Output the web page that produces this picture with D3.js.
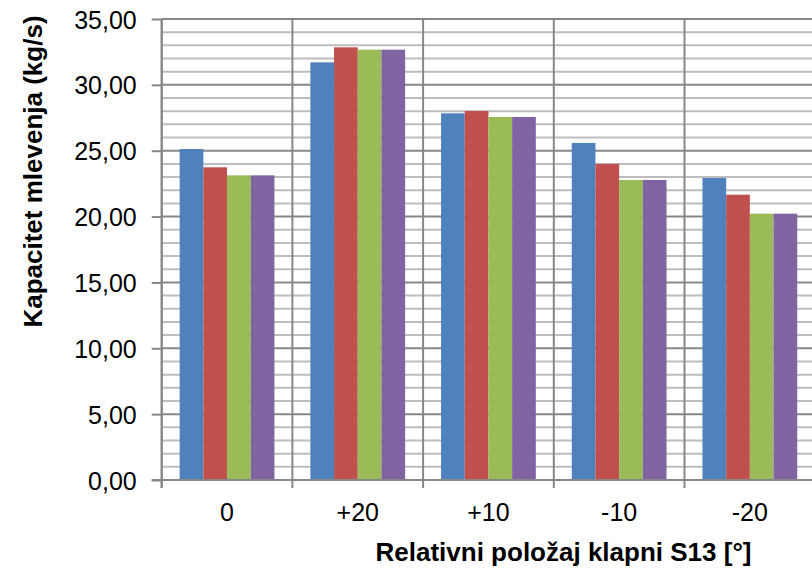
<!DOCTYPE html>
<html>
<head>
<meta charset="utf-8">
<script src="https://cdn.jsdelivr.net/npm/d3@7"></script>
<style>
  html, body { margin: 0; padding: 0; background: #fff; }
  svg { display: block; font-family: "Liberation Sans", Arial, sans-serif; }
</style>
</head>
<body>
<svg id="chart" width="812" height="570"></svg>
<script>
// Flap positions (x categories) and the four measurement series
const categories = ["0", "+20", "+10", "-10", "-20"];
const seriesNames = ["s1", "s2", "s3", "s4"];
const series1 = [25.13, 31.71, 27.84, 25.59, 22.93];
const series2 = [23.74, 32.85, 28.02, 24.00, 21.66];
const series3 = [23.13, 32.67, 27.56, 22.78, 20.22];
const series4 = [23.13, 32.67, 27.56, 22.78, 20.22];
const seriesValues = [series1, series2, series3, series4];
const seriesColors = ["#4F81BD", "#C0504D", "#9BBB59", "#8064A2"];
const majorTicks = [0, 5, 10, 15, 20, 25, 30, 35];
const tickLabels = ["0,00", "5,00", "10,00", "15,00", "20,00", "25,00", "30,00", "35,00"];
const yTitle = "Kapacitet mlevenja (kg/s)";
const xTitle = "Relativni položaj klapni S13 [°]";

const svg = d3.select("#chart");
const plotLeft = 161.7, plotRight = 815.2, plotTop = 19, plotBottom = 480;

const x = d3.scaleBand().domain(categories).range([plotLeft, plotRight]).padding(0);
const bw = x.bandwidth();
const groupW = bw * 0.725;
const xs = d3.scaleBand().domain(seriesNames)
  .range([(bw - groupW) / 2, (bw + groupW) / 2]).padding(0);
const y = d3.scaleLinear().domain([0, 35]).range([plotBottom, plotTop]);

const g = svg.append("g");

// minor horizontal gridlines (every 1 unit)
const minor = d3.range(0, 36).filter(v => v % 5 !== 0);
g.selectAll("line.minor").data(minor).join("line")
  .attr("x1", plotLeft).attr("x2", plotRight)
  .attr("y1", d => y(d)).attr("y2", d => y(d))
  .attr("stroke", "#bdbdbd").attr("stroke-width", 2);

// major horizontal gridlines
g.selectAll("line.major").data(majorTicks.filter(v => v > 0)).join("line")
  .attr("x1", plotLeft).attr("x2", plotRight)
  .attr("y1", d => y(d)).attr("y2", d => y(d))
  .attr("stroke", "#878787").attr("stroke-width", 2);

// vertical category separators
const seps = categories.map(c => x(c)).concat([plotRight]);
g.selectAll("line.vsep").data(seps).join("line")
  .attr("x1", d => d).attr("x2", d => d)
  .attr("y1", plotTop).attr("y2", plotBottom + 8)
  .attr("stroke", "#878787").attr("stroke-width", 2);

// bars
const bars = [];
seriesValues.forEach((vals, si) => {
  vals.forEach((v, ci) => bars.push({ s: seriesNames[si], c: categories[ci], v, color: seriesColors[si] }));
});
g.selectAll("rect.bar").data(bars).join("rect")
  .attr("x", d => x(d.c) + xs(d.s))
  .attr("width", xs.bandwidth())
  .attr("y", d => y(d.v))
  .attr("height", d => y(0) - y(d.v))
  .attr("fill", d => d.color);

// x axis line
g.append("line").attr("x1", plotLeft - 10).attr("x2", plotRight)
  .attr("y1", plotBottom).attr("y2", plotBottom)
  .attr("stroke", "#878787").attr("stroke-width", 2);

// y axis with major ticks and labels
const yAxis = d3.axisLeft(y).tickValues(majorTicks)
  .tickFormat((d, i) => tickLabels[i]).tickSize(10).tickPadding(15);
const ya = svg.append("g").attr("transform", `translate(${plotLeft},0)`).call(yAxis);
ya.select(".domain").attr("stroke", "#878787").attr("stroke-width", 2)
  .attr("d", `M0,${plotTop}V${plotBottom + 8}`);
ya.selectAll(".tick line").attr("stroke", "#878787").attr("stroke-width", 2);
ya.selectAll(".tick text").attr("font-size", 25).attr("fill", "#000")
  .attr("font-family", "Liberation Sans, Arial, sans-serif").attr("dy", "0.36em");

// x category labels
svg.append("g").selectAll("text").data(categories).join("text")
  .attr("x", d => x(d) + bw / 2).attr("y", 521)
  .attr("text-anchor", "middle").attr("font-size", 25).attr("fill", "#000")
  .text(d => d);

// axis titles
svg.append("text").attr("transform", "translate(42,171.5) rotate(-90)")
  .attr("text-anchor", "middle").attr("font-size", 26).attr("font-weight", "bold")
  .text(yTitle);
svg.append("text").attr("x", 563.5).attr("y", 561)
  .attr("text-anchor", "middle").attr("font-size", 26).attr("font-weight", "bold")
  .text(xTitle);
</script>
</body>
</html>
